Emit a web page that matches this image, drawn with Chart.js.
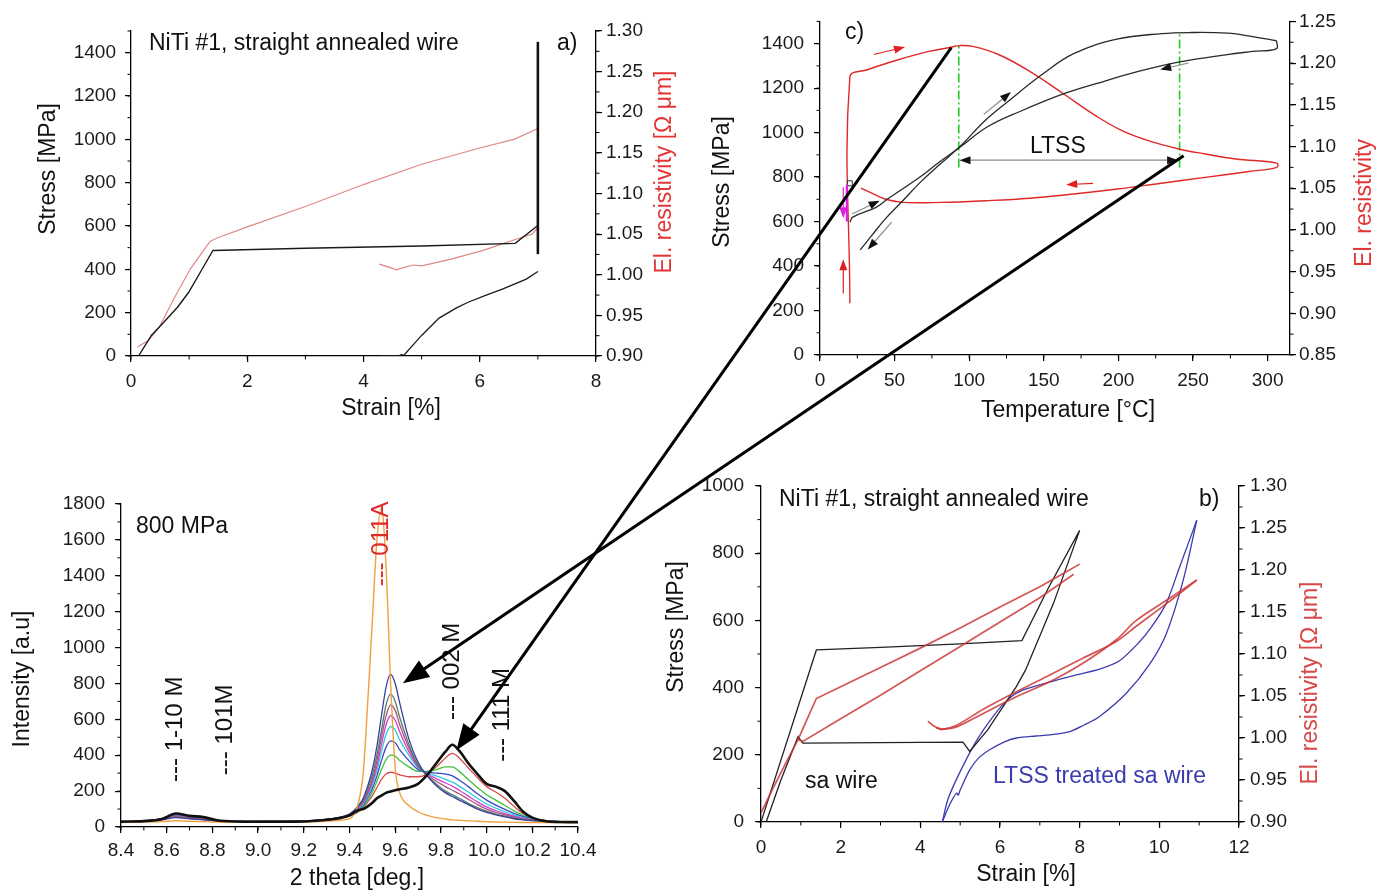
<!DOCTYPE html>
<html>
<head>
<meta charset="utf-8">
<script src="https://cdn.jsdelivr.net/npm/chart.js@4/dist/chart.umd.min.js"></script>
<style>
  html, body { margin: 0; padding: 0; background: #fff; }
  body { width: 1386px; height: 893px; position: relative; overflow: hidden; }
  canvas { position: absolute; }
</style>
</head>
<body>
<canvas id="panelA" width="690" height="430" style="left:0;top:0"></canvas>
<canvas id="panelC" width="696" height="430" style="left:690px;top:0"></canvas>
<canvas id="panelD" width="620" height="433" style="left:0;top:460px"></canvas>
<canvas id="panelB" width="736" height="433" style="left:650px;top:460px"></canvas>
<canvas id="overlay" width="1386" height="893" style="left:0;top:0;pointer-events:none"></canvas>
<script>
'use strict';

const FONT = '"Liberation Sans", Arial, Helvetica, sans-serif';
const RED_TITLE = '#e23636';

// ─── a) stress + resistivity vs strain ───────────────────────────────────────

const aStrainTicks = [0, 2, 4, 6, 8];
const aStressTicks = [0, 200, 400, 600, 800, 1000, 1200, 1400];
const aResTicks = [0.90, 0.95, 1.00, 1.05, 1.10, 1.15, 1.20, 1.25, 1.30];

const aLoadStrain = [0.13, 0.35, 0.56, 0.80, 0.99, 1.20, 1.41, 3.0, 5.0, 6.61, 7.0];
const aLoadStress = [0, 95, 155, 225, 293, 390, 487, 497, 508, 520, 602];
const aHoldStrain = [7.0, 7.0];
const aHoldStress = [470, 1450];
const aUnloadStrain = [4.28, 4.60, 4.65, 4.70, 4.73, 4.85, 5.0, 5.3, 5.6, 5.8, 6.1, 6.4, 6.8, 7.0];
const aUnloadStress = [0, 0, 6, 4, 14, 50, 95, 175, 222, 248, 280, 310, 355, 390];
const aResLoadStrain = [0.11, 0.30, 0.49, 0.75, 1.02, 1.20, 1.36, 1.47, 2.0, 3.0, 4.0, 5.0, 6.0, 6.6, 7.0];
const aResLoad = [0.911, 0.919, 0.936, 0.972, 1.007, 1.025, 1.041, 1.045, 1.059, 1.084, 1.111, 1.136, 1.156, 1.167, 1.180];
const aResUnloadStrain = [4.27, 4.45, 4.57, 4.70, 4.86, 5.0, 5.49, 6.06, 6.35, 6.64, 6.9, 7.0];
const aResUnload = [1.013, 1.009, 1.006, 1.009, 1.012, 1.011, 1.019, 1.030, 1.037, 1.044, 1.050, 1.058];

// ─── c) stress + resistivity vs temperature ──────────────────────────────────

const cTempTicks = [0, 50, 100, 150, 200, 250, 300];
const cStressTicks = [0, 200, 400, 600, 800, 1000, 1200, 1400];
const cResTicks = [0.85, 0.90, 0.95, 1.00, 1.05, 1.10, 1.15, 1.20, 1.25];

const cHeatT = [27, 35, 43.5, 55, 67, 80, 95, 110, 126, 149, 170, 199, 229, 249, 273, 290, 306];
const cHeatS = [473, 540, 610, 690, 775, 855, 945, 1050, 1140, 1262, 1355, 1420, 1445, 1450, 1447, 1432, 1413];
const cCoolT = [306, 306, 290, 273, 241, 214, 185, 163, 134, 112, 94, 80, 67, 45, 37.6, 22, 20];
const cCoolS = [1413, 1378, 1365, 1351, 1318, 1276, 1220, 1174, 1095, 1025, 935, 868, 800, 700, 664, 620, 597];
const cResT = [20, 20, 31.8, 52.4, 72.9, 87.6, 93.5, 102.4, 120, 140.6, 164.1, 184.7, 202.4, 220, 240.6, 258.2,
  278.8, 306.2, 306.2, 287.6, 258.2, 228.8, 199.4, 170, 140.6, 111.2, 81.8, 55.3, 43.5, 34.7, 27.4];
const cRes = [0.912, 1.183, 1.192, 1.204, 1.214, 1.219, 1.221, 1.220, 1.210, 1.190, 1.162, 1.137, 1.119, 1.107, 1.097, 1.091,
  1.085, 1.080, 1.075, 1.070, 1.063, 1.056, 1.049, 1.043, 1.038, 1.035, 1.033, 1.033, 1.037, 1.044, 1.050];
const cGreenStartT = [93, 93];
const cGreenStartS = [843, 1390];
const cGreenEndT = [241, 241];
const cGreenEndS = [843, 1452];
const cMagentaT = [18, 18];
const cMagentaS = [600, 765];

// small direction arrows in panel c, data coordinates [temperature, stress]
const cArrows = [
  { from: [36, 1351], to: [57, 1385], color: '#e02020' },
  { from: [183, 772], to: [165, 766], color: '#e02020' },
  { from: [15.6, 276], to: [15.6, 430], color: '#e02020' },
  { from: [15.6, 754], to: [15.6, 615], color: '#e020e0' },
  { from: [21.5, 634], to: [40, 694], color: '#888', head: '#111' },
  { from: [109.7, 1082], to: [128, 1182], color: '#888', head: '#111' },
  { from: [247, 1313], to: [228, 1284], color: '#888', head: '#111' },
  { from: [48, 597], to: [32, 474], color: '#888', head: '#111' },
  { from: [166, 876], to: [93.5, 876], color: '#888', head: '#111' },
  { from: [166, 876], to: [240, 876], color: '#888', head: '#111' },
];

// ─── d) XRD patterns ─────────────────────────────────────────────────────────

const dThetaTicks = [8.4, 8.6, 8.8, 9.0, 9.2, 9.4, 9.6, 9.8, 10.0, 10.2, 10.4];
const dIntTicks = [0, 200, 400, 600, 800, 1000, 1200, 1400, 1600, 1800];

const twoTheta = [8.40, 8.50, 8.58, 8.64, 8.70, 8.76, 8.82, 8.90, 9.00, 9.10, 9.20, 9.30, 9.36, 9.40, 9.44, 9.46, 9.48,
  9.50, 9.52, 9.54, 9.56, 9.58, 9.60, 9.62, 9.66, 9.70, 9.74, 9.78, 9.82, 9.85, 9.88, 9.92, 9.96, 10.00, 10.04,
  10.08, 10.12, 10.16, 10.20, 10.26, 10.32, 10.40];
const xrdOrange = [25, 27, 30, 35, 32, 30, 27, 26, 26, 26, 27, 32, 38, 45, 140, 300, 700, 1150, 1600, 1780, 1450, 800,
  330, 190, 120, 85, 65, 52, 45, 40, 37, 34, 32, 30, 28, 27, 26, 25, 25, 25, 25, 25];
const xrdBlack = [30, 33, 45, 75, 62, 55, 38, 31, 30, 30, 31, 40, 50, 65, 95, 100, 115, 135, 160, 175, 190, 198,
  205, 210, 220, 240, 290, 355, 420, 458, 425, 355, 295, 240, 225, 200, 145, 85, 52, 32, 28, 27];
const xrdNavy = [28, 32, 40, 52, 46, 40, 33, 30, 30, 30, 32, 42, 55, 72, 120, 160, 230, 320, 450, 620, 780, 850,
  800, 690, 490, 360, 285, 230, 190, 170, 150, 125, 100, 82, 68, 56, 46, 40, 35, 30, 28, 27];
const xrdGrayGreen = [28, 32, 42, 55, 48, 41, 33, 30, 30, 30, 32, 42, 55, 70, 115, 150, 210, 290, 400, 540, 680, 740,
  700, 610, 460, 345, 285, 240, 200, 180, 160, 132, 108, 88, 72, 60, 50, 42, 36, 31, 28, 27];
const xrdMauve = [29, 33, 43, 58, 50, 43, 34, 30, 30, 30, 32, 42, 54, 68, 110, 140, 195, 265, 370, 500, 620, 680,
  650, 570, 440, 340, 290, 255, 225, 205, 185, 155, 125, 100, 82, 68, 55, 45, 38, 32, 29, 27];
const xrdMagenta = [28, 33, 44, 60, 52, 44, 35, 31, 30, 30, 32, 42, 53, 66, 105, 135, 185, 250, 340, 460, 570, 620,
  595, 530, 420, 335, 295, 270, 245, 228, 205, 172, 140, 112, 92, 75, 60, 48, 40, 33, 29, 27];
const xrdCyan = [29, 33, 44, 61, 53, 45, 35, 31, 30, 31, 32, 42, 52, 65, 100, 128, 175, 235, 315, 420, 515, 560,
  540, 485, 400, 330, 300, 285, 265, 250, 228, 195, 160, 128, 105, 85, 67, 52, 42, 34, 29, 27];
const xrdBlue = [28, 33, 45, 63, 54, 46, 36, 31, 30, 30, 32, 41, 51, 63, 95, 120, 165, 215, 285, 370, 445, 480,
  470, 430, 370, 320, 305, 300, 295, 285, 262, 225, 185, 150, 122, 98, 76, 58, 45, 35, 29, 27];
const xrdGreen = [29, 34, 46, 65, 56, 47, 36, 31, 30, 31, 32, 41, 50, 62, 90, 112, 150, 195, 255, 320, 375, 400,
  395, 370, 335, 310, 310, 320, 335, 335, 310, 265, 220, 180, 150, 120, 90, 65, 48, 36, 30, 27];
const xrdRed = [29, 34, 47, 68, 58, 49, 37, 31, 30, 30, 32, 41, 50, 60, 85, 105, 140, 175, 220, 265, 295, 305,
  300, 290, 280, 280, 295, 335, 385, 410, 385, 330, 275, 225, 195, 160, 115, 75, 50, 36, 30, 27];

// reflection markers: [2theta, intensity where the label starts]
const dPeakLabels = ['--- 1-10 M', '--- 101M', '--- 011A', '--- 002 M', '--- 111 M'];
const dPeakTheta = [8.64, 8.855, 9.539, 9.851, 10.071];
const dPeakBase = [251, 289, 1341, 596, 363];

// ─── b) stress + resistivity vs strain, sa and LTSS wire ────────────────────

const bStrainTicks = [0, 2, 4, 6, 8, 10, 12];
const bStressTicks = [0, 200, 400, 600, 800, 1000];
const bResTicks = [0.90, 0.95, 1.00, 1.05, 1.10, 1.15, 1.20, 1.25, 1.30];

const bSaStrain = [0.0, 1.39, 3.0, 5.0, 6.55, 7.23, 8.0, 7.34, 6.64, 6.41, 5.69, 5.24, 5.07, 3.0, 1.05, 0.93, 0.5, 0.13];
const bSaStress = [0, 512, 520, 530, 540, 700, 868, 650, 452, 403, 274, 210, 238, 236, 235, 254, 125, 0];
const bLtLoadStrain = [4.55, 4.75, 4.91, 4.95, 5.0, 5.24, 5.46, 5.74, 6.1, 6.41, 6.9, 7.25, 7.75, 8.1, 8.5, 9.17, 9.77, 10.18, 10.6, 10.94];
const bLtLoadStress = [0, 55, 86, 80, 95, 155, 190, 215, 238, 250, 256, 259, 269, 288, 314, 383, 472, 562, 720, 898];
const bLtUnloadStrain = [10.94, 10.5, 10.17, 9.8, 9.47, 9.0, 8.5, 7.92, 7.2, 6.58, 6.2, 5.8, 5.4, 5.0, 4.7, 4.55];
const bLtUnloadStress = [898, 756, 650, 580, 532, 480, 455, 438, 415, 393, 365, 310, 240, 150, 70, 0];
const bResSaUpStrain = [0.0, 0.3, 0.6, 0.93, 1.2, 1.39, 2.0, 3.0, 4.0, 5.0, 6.0, 7.0, 7.6, 8.0];
const bResSaUp = [0.911, 0.940, 0.968, 0.998, 1.027, 1.047, 1.061, 1.084, 1.107, 1.131, 1.156, 1.180, 1.196, 1.207];
const bResSaDnStrain = [7.85, 7.0, 6.0, 5.0, 4.0, 3.0, 2.0, 1.05, 0.93];
const bResSaDn = [1.195, 1.167, 1.138, 1.109, 1.080, 1.051, 1.023, 0.996, 0.998];
const bResLtUpStrain = [4.19, 4.35, 4.53, 4.9, 5.57, 6.41, 7.25, 8.08, 8.92, 9.42, 10.18, 10.94];
const bResLtUp = [1.020, 1.014, 1.011, 1.013, 1.029, 1.049, 1.067, 1.089, 1.117, 1.140, 1.164, 1.188];
const bResLtDnStrain = [10.94, 10.18, 9.42, 8.92, 8.08, 7.25, 6.41, 5.57, 4.9, 4.53, 4.4];
const bResLtDn = [1.188, 1.160, 1.133, 1.115, 1.095, 1.075, 1.055, 1.034, 1.015, 1.010, 1.012];

// ─── arrows linking panel c to panel d ───────────────────────────────────────

const linkFromTemp = [88, 243.7];
const linkFromStress = [1382, 896];
const linkToTheta = [9.868, 9.634];
const linkToIntensity = [428, 801];

// ─── helpers ─────────────────────────────────────────────────────────────────

const fmtInt = v => String(Math.round(v));
const fmt1 = v => v.toFixed(1);
const fmt2 = v => v.toFixed(2);

function pts(xs, ys) {
  return xs.map((x, i) => ({ x, y: ys[i] }));
}

function line(xs, ys, color, width, extra) {
  return Object.assign({
    data: pts(xs, ys), showLine: true, borderColor: color, backgroundColor: color,
    borderWidth: width, pointRadius: 0, fill: false, tension: 0,
  }, extra || {});
}

function axis(pos, min, max, tickVals, fmt, size, pad) {
  return {
    type: 'linear', position: pos, min, max,
    afterBuildTicks: s => { s.ticks = tickVals.map(v => ({ value: v })); },
    afterFit: s => { if (pos === 'bottom') s.height = size; else s.width = size; },
    border: { display: true, color: '#000', width: 1.3 },
    grid: { display: true, drawOnChartArea: false, drawTicks: true, tickLength: 6, color: '#000', lineWidth: 1.2 },
    ticks: { color: '#1a1a1a', padding: pad, autoSkip: false, maxRotation: 0,
      font: { family: FONT, size: 19 }, callback: v => fmt(v) },
  };
}

function baseOptions(padding, scales) {
  return {
    animation: false, responsive: false, devicePixelRatio: 1,
    layout: { padding },
    plugins: { legend: { display: false }, tooltip: { enabled: false } },
    scales,
  };
}

function arrow(ctx, x1, y1, x2, y2, o) {
  const ang = Math.atan2(y2 - y1, x2 - x1);
  const c = Math.cos(ang), s = Math.sin(ang);
  ctx.strokeStyle = o.color;
  ctx.lineWidth = o.width;
  ctx.beginPath();
  ctx.moveTo(x1, y1);
  ctx.lineTo(x2 - c * o.len * 0.7, y2 - s * o.len * 0.7);
  ctx.stroke();
  ctx.fillStyle = o.headColor;
  ctx.beginPath();
  ctx.moveTo(x2, y2);
  ctx.lineTo(x2 - o.len * c + o.half * s, y2 - o.len * s - o.half * c);
  ctx.lineTo(x2 - o.len * c - o.half * s, y2 - o.len * s + o.half * c);
  ctx.closePath();
  ctx.fill();
}

// minor ticks, small arrows and free text drawn on top of each panel
function decor(cfg) {
  return {
    id: 'decor',
    afterDraw(chart) {
      const ctx = chart.ctx, area = chart.chartArea;
      ctx.save();
      ctx.strokeStyle = '#000';
      ctx.lineWidth = 1;
      Object.keys(cfg.minor || {}).forEach(id => {
        const sc = chart.scales[id], step = cfg.minor[id];
        const n = Math.floor((sc.max - sc.min) / step + 1e-6);
        for (let k = 0; k <= n; k++) {
          const p = sc.getPixelForValue(sc.min + k * step);
          ctx.beginPath();
          if (sc.position === 'bottom') { ctx.moveTo(p, area.bottom); ctx.lineTo(p, area.bottom + 3.5); }
          else if (sc.position === 'left') { ctx.moveTo(area.left, p); ctx.lineTo(area.left - 3.5, p); }
          else { ctx.moveTo(area.right, p); ctx.lineTo(area.right + 3.5, p); }
          ctx.stroke();
        }
      });
      (cfg.arrows || []).forEach(a => {
        const xs = chart.scales.x, ys = chart.scales.y;
        arrow(ctx, xs.getPixelForValue(a.from[0]), ys.getPixelForValue(a.from[1]),
          xs.getPixelForValue(a.to[0]), ys.getPixelForValue(a.to[1]),
          { color: a.color, headColor: a.head || a.color, width: 1.2, len: 11, half: 4 });
      });
      (cfg.texts || []).forEach(t => {
        let x = t.x, y = t.y;
        if (t.data) { x = chart.scales.x.getPixelForValue(t.x); y = chart.scales.y.getPixelForValue(t.y); }
        ctx.save();
        ctx.translate(x, y);
        if (t.rot) ctx.rotate(t.rot * Math.PI / 180);
        ctx.font = `${t.size || 23}px ${FONT}`;
        ctx.fillStyle = t.color || '#111';
        ctx.textAlign = t.align || 'center';
        ctx.textBaseline = 'middle';
        ctx.fillText(t.text, 0, 0);
        ctx.restore();
      });
      ctx.restore();
    },
  };
}

// ─── panel a ─────────────────────────────────────────────────────────────────

const chartA = new Chart(document.getElementById('panelA'), {
  type: 'scatter',
  data: {
    datasets: [
      line(aHoldStrain, aHoldStress, '#111', 2.6),
      line(aLoadStrain, aLoadStress, '#1a1a1a', 1.4),
      line(aUnloadStrain, aUnloadStress, '#1a1a1a', 1.3),
      line(aResLoadStrain, aResLoad, '#e08888', 1.2, { yAxisID: 'y2' }),
      line(aResUnloadStrain, aResUnload, '#e08888', 1.2, { yAxisID: 'y2' }),
    ],
  },
  options: baseOptions({ top: 31, right: 0, bottom: 0, left: 0 }, {
    x: axis('bottom', 0, 8, aStrainTicks, fmtInt, 74, 8),
    y: axis('left', 0, 1500, aStressTicks, fmtInt, 131, 9),
    y2: axis('right', 0.9, 1.3, aResTicks, fmt2, 94, 4),
  }),
  plugins: [decor({
    minor: { x: 1, y: 100, y2: 0.025 },
    texts: [
      { text: 'Stress [MPa]', x: 49, y: 169, rot: -90 },
      { text: 'Strain [%]', x: 391, y: 409 },
      { text: 'El. resistivity [\u03A9 \u03BCm]', x: 665, y: 172, rot: -90, color: RED_TITLE },
      { text: 'NiTi #1, straight annealed wire', x: 149, y: 44, align: 'left' },
      { text: 'a)', x: 557, y: 44, align: 'left' },
    ],
  })],
});

// ─── panel c ─────────────────────────────────────────────────────────────────

const chartC = new Chart(document.getElementById('panelC'), {
  type: 'scatter',
  data: {
    datasets: [
      line(cHeatT, cHeatS, '#2a2a2a', 1.3, { tension: 0.4 }),
      line(cCoolT, cCoolS, '#2a2a2a', 1.3, { tension: 0.4 }),
      line(cMagentaT, cMagentaS, '#e020e0', 2.2),
      line([20], [772], '#333', 1, { showLine: false, pointRadius: 3.5, pointStyle: 'rect', backgroundColor: 'rgba(0,0,0,0)' }),
      line(cResT, cRes, '#e02828', 1.4, { yAxisID: 'y2', tension: 0.4 }),
      line(cGreenStartT, cGreenStartS, '#22cc22', 1.6, { borderDash: [9, 3, 2, 3] }),
      line(cGreenEndT, cGreenEndS, '#22cc22', 1.6, { borderDash: [9, 3, 2, 3] }),
    ],
  },
  options: baseOptions({ top: 20, right: 0, bottom: 0, left: 0 }, {
    x: axis('bottom', 0, 315, cTempTicks, fmtInt, 75, 8),
    y: axis('left', 0, 1500, cStressTicks, fmtInt, 130, 10),
    y2: axis('right', 0.85, 1.25, cResTicks, fmt2, 96, 3),
  }),
  plugins: [decor({
    minor: { x: 25, y: 100, y2: 0.025 },
    arrows: cArrows,
    texts: [
      { text: 'Stress [MPa]', x: 33, y: 182, rot: -90 },
      { text: 'Temperature [\u00B0C]', x: 378, y: 411 },
      { text: 'El. resistivity', x: 675, y: 203, rot: -90, color: RED_TITLE },
      { text: 'c)', x: 155, y: 33, align: 'left' },
      { text: 'LTSS', x: 159.4, y: 936, data: true },
    ],
  })],
});

// ─── panel d ─────────────────────────────────────────────────────────────────

const xrd = (ys, color, width) => line(twoTheta, ys, color, width, { cubicInterpolationMode: 'monotone' });

const chartD = new Chart(document.getElementById('panelD'), {
  type: 'scatter',
  data: {
    datasets: [
      xrd(xrdBlack, '#111', 2.6),
      xrd(xrdOrange, '#f0a040', 1.4),
      xrd(xrdNavy, '#3d3d9c', 1.3),
      xrd(xrdGrayGreen, '#4f7f6f', 1.3),
      xrd(xrdMauve, '#b0507a', 1.3),
      xrd(xrdMagenta, '#d040d0', 1.3),
      xrd(xrdCyan, '#30c8e0', 1.3),
      xrd(xrdBlue, '#3848c0', 1.3),
      xrd(xrdGreen, '#40c040', 1.3),
      xrd(xrdRed, '#d84a4a', 1.3),
    ],
  },
  options: baseOptions({ top: 44, right: 42, bottom: 0, left: 0 }, {
    x: axis('bottom', 8.4, 10.4, dThetaTicks, fmt1, 66, 6),
    y: axis('left', 0, 1800, dIntTicks, fmtInt, 121, 10),
  }),
  plugins: [decor({
    minor: { x: 0.1, y: 100 },
    texts: [
      { text: 'Intensity [a.u]', x: 23, y: 219, rot: -90 },
      { text: '2 theta [deg.]', x: 357, y: 419 },
      { text: '800 MPa', x: 136, y: 67, align: 'left' },
    ].concat(dPeakLabels.map((t, i) => ({
      text: t, x: dPeakTheta[i], y: dPeakBase[i], data: true, rot: -90, align: 'left', size: 24,
      color: t.indexOf('A') > 0 ? '#e02828' : '#111',
    }))),
  })],
});

// ─── panel b ─────────────────────────────────────────────────────────────────

const RED_B = 'rgba(205,55,55,0.85)';
const chartB = new Chart(document.getElementById('panelB'), {
  type: 'scatter',
  data: {
    datasets: [
      line(bResSaUpStrain, bResSaUp, RED_B, 1.7, { yAxisID: 'y2' }),
      line(bResSaDnStrain, bResSaDn, RED_B, 1.7, { yAxisID: 'y2' }),
      line(bResLtUpStrain, bResLtUp, RED_B, 1.7, { yAxisID: 'y2', tension: 0.3 }),
      line(bResLtDnStrain, bResLtDn, RED_B, 1.7, { yAxisID: 'y2', tension: 0.3 }),
      line(bSaStrain, bSaStress, '#222', 1.3),
      line(bLtLoadStrain, bLtLoadStress, '#3b3bb0', 1.3, { tension: 0.3 }),
      line(bLtUnloadStrain, bLtUnloadStress, '#3b3bb0', 1.3, { tension: 0.3 }),
    ],
  },
  options: baseOptions({ top: 26, right: 0, bottom: 0, left: 0 }, {
    x: axis('bottom', 0, 12, bStrainTicks, fmtInt, 71, 8),
    y: axis('left', 0, 1000, bStressTicks, fmtInt, 111, 11),
    y2: axis('right', 0.9, 1.3, bResTicks, fmt2, 147, 5),
  }),
  plugins: [decor({
    minor: { x: 1, y: 100, y2: 0.025 },
    texts: [
      { text: 'Stress [MPa]', x: 27, y: 167, rot: -90 },
      { text: 'Strain [%]', x: 376, y: 415 },
      { text: 'El. resistivity [\u03A9 \u03BCm]', x: 661, y: 223, rot: -90, color: '#d84848' },
      { text: 'NiTi #1, straight annealed wire', x: 129, y: 40, align: 'left' },
      { text: 'b)', x: 549, y: 40, align: 'left' },
      { text: 'sa wire', x: 155, y: 322, align: 'left' },
      { text: 'LTSS treated sa wire', x: 343, y: 317, align: 'left', color: '#3b3bb0' },
    ],
  })],
});

// ─── overlay: long arrows from panel c into panel d ──────────────────────────

function pagePt(chart, xv, yv) {
  const c = chart.canvas;
  return [c.offsetLeft + chart.scales.x.getPixelForValue(xv), c.offsetTop + chart.scales.y.getPixelForValue(yv)];
}

const octx = document.getElementById('overlay').getContext('2d');
linkFromTemp.forEach((t, i) => {
  const p1 = pagePt(chartC, t, linkFromStress[i]);
  const p2 = pagePt(chartD, linkToTheta[i], linkToIntensity[i]);
  arrow(octx, p1[0], p1[1], p2[0], p2[1], { color: '#000', headColor: '#000', width: 3, len: 26, half: 10 });
});
</script>
</body>
</html>
